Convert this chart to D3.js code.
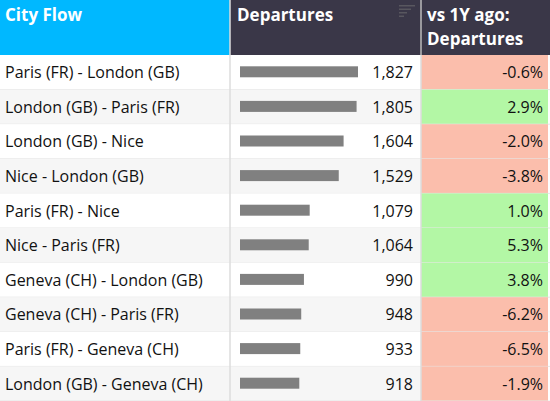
<!DOCTYPE html><html><head><script src="https://cdn.jsdelivr.net/npm/d3@7"></script>
<style>body{margin:0;font-family:"Open Sans",sans-serif}</style></head><body><svg id="c" width="550" height="401"></svg><script>
const flows=["Paris (FR) - London (GB)","London (GB) - Paris (FR)","London (GB) - Nice","Nice - London (GB)","Paris (FR) - Nice","Nice - Paris (FR)","Geneva (CH) - London (GB)","Geneva (CH) - Paris (FR)","Paris (FR) - Geneva (CH)","London (GB) - Geneva (CH)"];
const departures=[1827,1805,1604,1529,1079,1064,990,948,933,918];
const change=[-0.6,2.9,-2.0,-3.8,1.0,5.3,3.8,-6.2,-6.5,-1.9];
const svg=d3.select("#c");
const H=55,c1=230,c2=421,W=550;
const y=d3.scaleBand().domain(d3.range(10)).range([H,401]);
const x=d3.scaleLinear().domain([0,1827]).range([0,118]);
svg.append("rect").attr("width",c1).attr("height",H).attr("fill","#00b8ff");
svg.append("rect").attr("x",c1).attr("width",W-c1).attr("height",H).attr("fill","#3a3748");
svg.append("line").attr("x1",c2).attr("x2",c2).attr("y1",0).attr("y2",H).attr("stroke","#bbb").attr("stroke-width",1.5);
const hdr=(t,xx,yy)=>svg.append("text").attr("x",xx).attr("y",yy).attr("fill","#fff").attr("font-weight","bold").attr("font-size",17).text(t);
hdr("City Flow",5,21);hdr("Departures",237,21);hdr("vs 1Y ago:",427,21);hdr("Departures",427,45);
svg.append("g").attr("fill","#777").attr("opacity",0.5).selectAll("rect").data([16,12,8,5]).join("rect").attr("x",399).attr("y",(d,i)=>5+i*3.5).attr("width",d=>d).attr("height",1.5);
const r=svg.append("g").selectAll("g").data(d3.range(10)).join("g").attr("transform",i=>`translate(0,${y(i)})`);
const bh=y.bandwidth();
r.append("rect").attr("width",c2).attr("height",bh).attr("fill",i=>i%2?"#f6f6f6":"#fff");
r.append("rect").attr("x",c2).attr("width",W-c2-2).attr("height",bh).attr("fill",i=>change[i]<0?"#fbbeac":"#b3f7a5");
r.append("line").attr("x1",0).attr("x2",W).attr("y1",bh).attr("y2",bh).attr("stroke","#e6e6e6");
r.append("text").attr("x",5).attr("y",bh/2+6).attr("font-size",16).attr("fill","#111").text(i=>flows[i]);
r.append("rect").attr("x",240).attr("y",bh/2-6).attr("height",11).attr("width",i=>x(departures[i])).attr("fill","#808080");
r.append("text").attr("x",413).attr("y",bh/2+6).attr("text-anchor","end").attr("font-size",16).attr("fill","#111").text(i=>d3.format(",")(departures[i]));
r.append("text").attr("x",543).attr("y",bh/2+6).attr("text-anchor","end").attr("font-size",16).attr("fill","#111").text(i=>change[i].toFixed(1)+"%");
svg.append("line").attr("x1",c1).attr("x2",c1).attr("y1",0).attr("y2",401).attr("stroke","#ddd").attr("stroke-width",1.5);
svg.append("line").attr("x1",c2).attr("x2",c2).attr("y1",H).attr("y2",401).attr("stroke","#ddd").attr("stroke-width",1.5);
</script></body></html>
